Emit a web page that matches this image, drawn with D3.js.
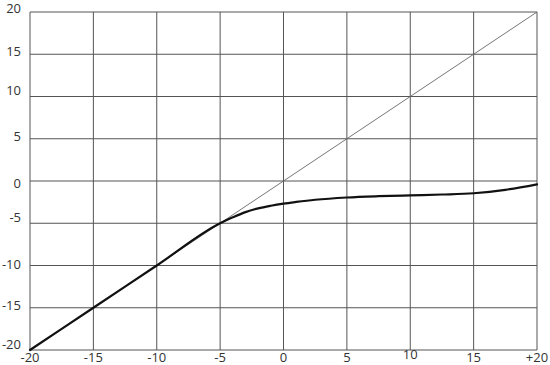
<!DOCTYPE html>
<html>
<head>
<meta charset="utf-8">
<script src="https://cdn.jsdelivr.net/npm/d3@7"></script>
<style>
  body { margin: 0; background: #fff; }
  text { font-family: "Open Sans", "Noto Sans", sans-serif; font-size: 13px; fill: #333; }
</style>
</head>
<body>
<script>
// input level (x) vs output level (y)
const inputLevels = [-20, -15, -10, -5, -4, -3, -2, -1, 0, 1, 2.5, 5, 7.5, 10, 12.5, 15, 17.5, 20];
const outputLevels = [-20, -15, -10, -5, -4.3, -3.68, -3.24, -2.93, -2.68, -2.48, -2.22, -1.95, -1.8, -1.7, -1.6, -1.45, -1.05, -0.4];
const xTicks = [-20, -15, -10, -5, 0, 5, 10, 15, 20];
const yTicks = [-20, -15, -10, -5, 0, 5, 10, 15, 20];
const xTickLabels = ["-20", "-15", "-10", "-5", "0", "5", "10", "15", "+20"];

const width = 550;
const height = 365;
const margin = { top: 12, right: 13, bottom: 15, left: 30 };

// label nudges, the reference has them a bit uneven
const yNudge = { "20": -4, "15": -3, "10": -6, "5": -2, "0": 2, "-5": -6, "-10": -1, "-15": -2, "-20": -6 };
const xNudge = { "10": -3 };

const x = d3.scaleLinear().domain([-20, 20]).range([margin.left, width - margin.right]);
const y = d3.scaleLinear().domain([-20, 20]).range([height - margin.bottom, margin.top]);

const svg = d3.select("body").append("svg")
  .attr("width", width)
  .attr("height", height);

// grid
svg.append("g")
  .selectAll("line")
  .data(xTicks)
  .join("line")
  .attr("x1", d => x(d)).attr("x2", d => x(d))
  .attr("y1", y(-20)).attr("y2", y(20))
  .attr("stroke", "#555")
  .attr("stroke-width", 1);

svg.append("g")
  .selectAll("line")
  .data(yTicks)
  .join("line")
  .attr("x1", x(-20)).attr("x2", x(20))
  .attr("y1", d => y(d)).attr("y2", d => y(d))
  .attr("stroke", "#555")
  .attr("stroke-width", 1);

// unity line
svg.append("line")
  .attr("x1", x(-20)).attr("y1", y(-20))
  .attr("x2", x(20)).attr("y2", y(20))
  .attr("stroke", "#666")
  .attr("stroke-width", 0.9);

// transfer curve
const points = inputLevels.map((v, i) => [v, outputLevels[i]]);
const line = d3.line()
  .x(d => x(d[0]))
  .y(d => y(d[1]))
  .curve(d3.curveMonotoneX);

svg.append("path")
  .datum(points)
  .attr("d", line)
  .attr("fill", "none")
  .attr("stroke", "#111")
  .attr("stroke-width", 2.2)
  .attr("stroke-linecap", "round");

// y labels
svg.append("g")
  .selectAll("text")
  .data(yTicks)
  .join("text")
  .attr("x", 21)
  .attr("y", d => y(d) + (yNudge[String(d)] || 0))
  .attr("dy", "0.35em")
  .attr("text-anchor", "end")
  .text(d => d);

// x labels
svg.append("g")
  .selectAll("text")
  .data(xTicks)
  .join("text")
  .attr("x", d => x(d))
  .attr("y", (d, i) => y(-20) + 7 + (xNudge[xTickLabels[i]] || 0))
  .attr("dy", "0.35em")
  .attr("text-anchor", "middle")
  .text((d, i) => xTickLabels[i]);
</script>
</body>
</html>
